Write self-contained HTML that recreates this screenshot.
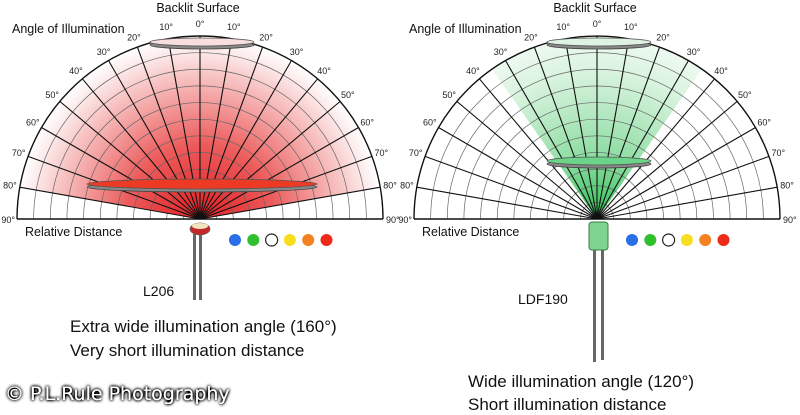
<!DOCTYPE html>
<html><head><meta charset="utf-8">
<style>
html,body{margin:0;padding:0;background:#fff;}
svg{display:block;font-family:"Liberation Sans",Arial,sans-serif;}
</style></head>
<body>
<svg id="c" width="800" height="415" viewBox="0 0 800 415">
<defs>
<radialGradient id="redG" cx="200" cy="219" r="183" gradientUnits="userSpaceOnUse">
<stop offset="0" stop-color="#e41e22"/><stop offset="0.4" stop-color="#ec5a5a"/><stop offset="0.8" stop-color="#f8c8c8"/><stop offset="1" stop-color="#fff" stop-opacity="0.9"/>
</radialGradient>
<radialGradient id="greenG" cx="597" cy="219" r="183" gradientUnits="userSpaceOnUse">
<stop offset="0" stop-color="#2fbf56"/><stop offset="0.35" stop-color="#8fdda3"/><stop offset="0.8" stop-color="#d8f3de"/><stop offset="1" stop-color="#eefaf0"/>
</radialGradient>
<filter id="glow" x="-10%" y="-30%" width="120%" height="160%"><feGaussianBlur in="SourceAlpha" stdDeviation="1.6"/><feComponentTransfer><feFuncA type="linear" slope="2.5"/></feComponentTransfer><feMerge><feMergeNode/><feMergeNode in="SourceGraphic"/></feMerge></filter>
</defs>
<g id="layer"></g>
</svg>
<script>
const angleTicks = [0,10,20,30,40,50,60,70,80,90];
const ringCount = 11;
const leftBeamHalfAngle = 80;
const rightBeamHalfAngle = 35;
const leftDots = ["#2a6ee8","#2fbf2f","#ffffff","#f8de20","#f58220","#ee2a1a"];
const NS = "http://www.w3.org/2000/svg";
const layer = document.getElementById('layer');
function mk(tag, attrs, parent){const e=document.createElementNS(NS,tag);for(const k in attrs)e.setAttribute(k,attrs[k]);(parent||layer).appendChild(e);return e;}
function pt(cx,cy,r,a){const t=a*Math.PI/180;return [cx+r*Math.sin(t),cy-r*Math.cos(t)];}

function panel(cx, cy, R, half, fill, prefix){
  const g = mk('g',{});
  
  
  const p1=pt(cx,cy,R,-half), p2=pt(cx,cy,R,half);
  const beam=mk('path',{d:`M${cx},${cy} L${p1[0]},${p1[1]} A${R},${R} 0 0 1 ${p2[0]},${p2[1]} Z`,fill:fill},g);
  
  
  for(let i=1;i<=ringCount;i++){
    const r=R*i/ringCount;
    const ring=mk('path',{d:`M${cx-r},${cy} A${r},${r} 0 0 1 ${cx+r},${cy}`,fill:'none',stroke:i===ringCount?'#111':'#666','stroke-width':i===ringCount?1.4:0.7},g);
    
    
  }
  angleTicks.forEach(a=>{
    [-1,1].forEach(s=>{
      if(a===0&&s<0)return;
      const e=pt(cx,cy,R,a*s);
      const sp=mk('line',{x1:cx,y1:cy,x2:e[0],y2:e[1],stroke:'#111','stroke-width':a===90?1.4:1.1},g);
      
      
      let tx;
      if(a===90){
        tx=mk('text',{x:s<0?cx-R-2:cx+R+3,y:cy+4,'font-size':9,'text-anchor':s<0?'end':'start',fill:'#222'},g);
      } else {
        const l=pt(cx,cy,R+(a<=10?12:10),a*s);
        tx=mk('text',{x:l[0],y:l[1]+3,'font-size':9,'text-anchor':'middle',fill:'#222'},g);
      }
      tx.textContent=a+'°';
      
      
    });
  });
  const t1=mk('text',{x:cx-2,y:12,'font-size':12.5,'text-anchor':'middle',fill:'#111'},g);t1.textContent='Backlit Surface';
  
  const t2=mk('text',{x:cx-188,y:33,'font-size':12.5,fill:'#111'},g);t2.textContent='Angle of Illumination';
  
  const t3=mk('text',{x:cx-175,y:236,'font-size':12.5,fill:'#111'},g);t3.textContent='Relative Distance';
  
  leftDots.forEach((c,i)=>{
    const d=mk('circle',{cx:cx+35+i*18.3,cy:240,r:6,fill:c,stroke:c==='#ffffff'?'#222':'none','stroke-width':1.2},g);
    
  });
  return g;
}
function disk(cx,cy,rx,ry,fill,name){
  const g=mk('g',{});
  
  mk('ellipse',{cx:cx,cy:cy+3,rx:rx,ry:ry,fill:'#888',stroke:'#444','stroke-width':0.8},g);
  mk('ellipse',{cx:cx,cy:cy,rx:rx,ry:ry,fill:fill,stroke:'#555','stroke-width':0.8},g);
}
panel(200,219,183,leftBeamHalfAngle,'url(#redG)','left');
panel(597,219,183,rightBeamHalfAngle,'url(#greenG)','right');
disk(202,42,52,4,'#f8dede','left-top-disk');
disk(202,184,115,5,'#ec3a24','left-diffuser-disk');
disk(599,42,52,4,'#dff3e4','right-top-disk');
disk(599,161,52,4,'#6cd488','right-diffuser-disk');

mk('rect',{x:193,y:232,width:3,height:68,fill:'#666'});
mk('rect',{x:199,y:232,width:3,height:68,fill:'#666'});
const c1=mk('ellipse',{cx:200,cy:229,rx:10,ry:6,fill:'#c0282a',stroke:'#666','stroke-width':0.7});

mk('ellipse',{cx:200,cy:226,rx:8,ry:3,fill:'#f3e4c0'});
mk('rect',{x:593,y:248,width:3,height:114,fill:'#666'});
mk('rect',{x:601,y:248,width:3,height:112,fill:'#666'});
const c2=mk('rect',{x:589,y:222,width:19,height:28,rx:3,fill:'#7fd48f',stroke:'#3a7a4a','stroke-width':1});


function txt(x,y,s,str,name,extra){const t=mk('text',Object.assign({x:x,y:y,'font-size':s,fill:'#111'},extra||{}));t.textContent=str;return t;}
txt(143,296,14,'L206','l206-model-label');
txt(518,304,14,'LDF190','ldf190-model-label');
txt(70,332,17,'Extra wide illumination angle (160°)','l206-angle-caption');
txt(70,356,17,'Very short illumination distance','l206-distance-caption');
txt(468,387,17,'Wide illumination angle (120°)','ldf190-angle-caption');
txt(468,410,17,'Short illumination distance','ldf190-distance-caption');
txt(5,400,19,'© P.L.Rule Photography','copyright-watermark',{fill:'#fff',filter:'url(#glow)','font-family':'DejaVu Sans, sans-serif'});
</script>
</body></html>
